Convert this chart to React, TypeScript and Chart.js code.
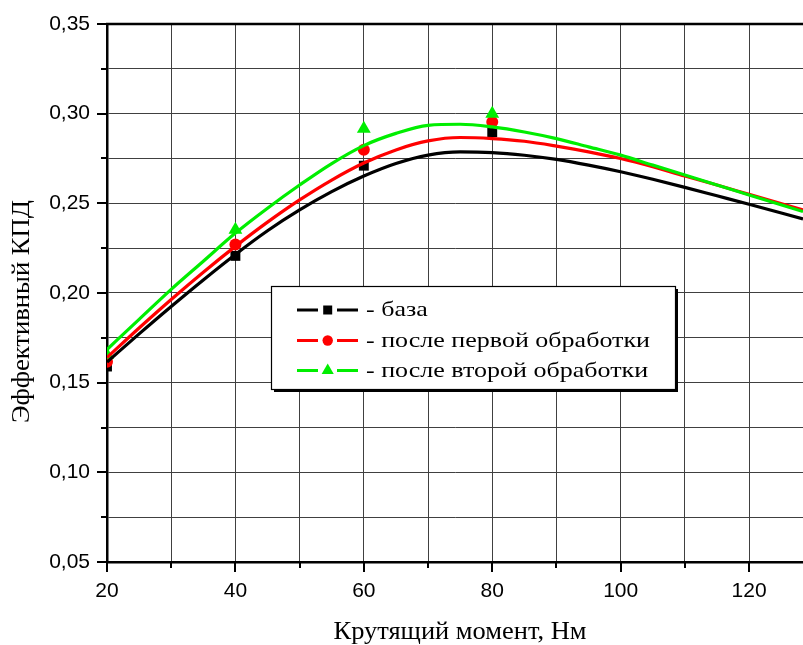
import React, { useEffect, useRef } from 'react';
import { Chart, registerables } from 'chart.js';
Chart.register(...registerables);

// fitted curves
const xCurve = [20, 25, 30, 35, 40, 45, 50, 55, 60, 65, 70, 75, 80, 85, 90, 95, 100, 105, 110, 115, 120, 128.4];
const baseCurve = [0.1615, 0.1772, 0.1925, 0.2073, 0.2215, 0.2347, 0.2463, 0.2565, 0.2652, 0.2722, 0.2769, 0.2787, 0.2783, 0.2768, 0.2745, 0.2713, 0.2676, 0.2634, 0.2589, 0.2542, 0.2495, 0.2413];
const firstCurve = [0.164, 0.1805, 0.1964, 0.2116, 0.226, 0.2395, 0.2519, 0.263, 0.2725, 0.2798, 0.2848, 0.2867, 0.2861, 0.2846, 0.2819, 0.2787, 0.275, 0.2704, 0.2652, 0.2602, 0.255, 0.2463];
const secondCurve = [0.1685, 0.1853, 0.202, 0.2177, 0.2334, 0.2473, 0.2602, 0.2722, 0.2822, 0.289, 0.2935, 0.2941, 0.2926, 0.2898, 0.2861, 0.2815, 0.2769, 0.2713, 0.2658, 0.2602, 0.2547, 0.2454];

// measured points
const xPoints = [20, 40, 60, 80];
const basePoints = [0.159, 0.2207, 0.271, 0.2897];
const firstPoints = [0.1616, 0.227, 0.2799, 0.2953];
const secondPoints = [0.1654, 0.2353, 0.2916, 0.3];

const seriesNames = ['- база', '- после первой обработки', '- после второй обработки'];
const seriesColors = ['#000000', '#ff0000', '#00ee00'];
const seriesStyles = ['rect', 'circle', 'triangle'];
const xTitle = 'Крутящий момент, Нм';
const yTitle = 'Эффективный КПД';

const X_MIN = 20;
const X_MAX = 128.4;
const Y_MIN = 0.05;
const Y_MAX = 0.35;

function drawStretched(ctx: CanvasRenderingContext2D, text: string, x: number, y: number, scale: number, align: 'left' | 'center') {
  const w = ctx.measureText(text).width;
  ctx.save();
  ctx.translate(x, y);
  ctx.scale(scale, 1);
  ctx.textAlign = 'left';
  ctx.fillText(text, align === 'center' ? -w / 2 : 0, 0);
  ctx.restore();
}

function drawMarker(ctx: CanvasRenderingContext2D, style: string, x: number, y: number, color: string) {
  ctx.save();
  ctx.fillStyle = color;
  ctx.beginPath();
  if (style === 'rect') {
    ctx.rect(x - 4.5, y - 4.5, 9, 9);
  } else if (style === 'circle') {
    ctx.arc(x, y, 5.2, 0, Math.PI * 2);
  } else {
    const r = 7;
    ctx.moveTo(x, y - r);
    ctx.lineTo(x + r * 0.866, y + r * 0.5);
    ctx.lineTo(x - r * 0.866, y + r * 0.5);
    ctx.closePath();
  }
  ctx.fill();
  ctx.restore();
}

const decorPlugin = {
  id: 'decor',
  afterDraw(chart: any) {
    const ctx: CanvasRenderingContext2D = chart.ctx;
    const xs = chart.scales.x;
    const ys = chart.scales.y;
    const area = chart.chartArea;
    ctx.save();
    // top border
    ctx.strokeStyle = '#000';
    ctx.lineWidth = 2.5;
    ctx.beginPath();
    ctx.moveTo(area.left - 1, area.top);
    ctx.lineTo(area.right + 2, area.top);
    ctx.stroke();
    // ticks
    ctx.lineWidth = 2;
    for (let v = X_MIN; v <= 120 + 1e-9; v += 10) {
      const px = Math.round(xs.getPixelForValue(v));
      const major = Math.round(v) % 20 === 0;
      ctx.beginPath();
      ctx.moveTo(px, area.bottom);
      ctx.lineTo(px, area.bottom + (major ? 10 : 6));
      ctx.stroke();
    }
    for (let i = 0; i <= 12; i++) {
      const v = Y_MIN + i * 0.025;
      const py = Math.round(ys.getPixelForValue(v));
      const major = i % 2 === 0;
      ctx.beginPath();
      ctx.moveTo(area.left, py);
      ctx.lineTo(area.left - (major ? 10 : 6), py);
      ctx.stroke();
    }
    // legend
    const bx = 271, by = 286, bw = 404, bh = 103;
    ctx.fillStyle = '#000';
    ctx.fillRect(bx + 3, by + 3, bw, bh);
    ctx.fillStyle = '#fff';
    ctx.fillRect(bx, by, bw, bh);
    ctx.strokeStyle = '#000';
    ctx.lineWidth = 1.2;
    ctx.strokeRect(bx + 0.5, by + 0.5, bw, bh);
    ctx.font = '22px "Liberation Serif", "Times New Roman", serif';
    const refW = ctx.measureText(seriesNames[1]).width;
    const lscale = 284 / refW;
    const rows = [310, 340.5, 370.5];
    seriesNames.forEach((name, i) => {
      const ry = rows[i];
      ctx.strokeStyle = seriesColors[i];
      ctx.lineWidth = 3;
      ctx.beginPath();
      ctx.moveTo(297, ry);
      ctx.lineTo(318, ry);
      ctx.moveTo(337, ry);
      ctx.lineTo(358, ry);
      ctx.stroke();
      drawMarker(ctx, seriesStyles[i], 327.7, ry, seriesColors[i]);
      ctx.fillStyle = '#000';
      ctx.textBaseline = 'alphabetic';
      drawStretched(ctx, name, 366, ry + 6, lscale, 'left');
    });
    // axis titles
    ctx.fillStyle = '#000';
    ctx.font = '25px "Liberation Serif", "Times New Roman", serif';
    ctx.textBaseline = 'alphabetic';
    const xw = ctx.measureText(xTitle).width;
    drawStretched(ctx, xTitle, 460, 638.5, 253 / xw, 'center');
    const yw = ctx.measureText(yTitle).width;
    ctx.save();
    ctx.translate(28.5, 311.5);
    ctx.rotate(-Math.PI / 2);
    drawStretched(ctx, yTitle, 0, 0, 223 / yw, 'center');
    ctx.restore();
    ctx.restore();
  },
};

const App = () => {
  const ref = useRef<HTMLCanvasElement>(null);
  useEffect(() => {
    const canvas = ref.current;
    if (!canvas) return;
    const curves = [baseCurve, firstCurve, secondCurve].map((arr, i) => ({
      type: 'line' as const,
      label: seriesNames[i] + ' fit',
      data: xCurve.map((x, j) => ({ x, y: arr[j] })),
      borderColor: seriesColors[i],
      borderWidth: 3.2,
      pointRadius: 0,
      cubicInterpolationMode: 'monotone' as const,
      fill: false,
      order: 3 - i,
    }));
    const points = [basePoints, firstPoints, secondPoints].map((arr, i) => ({
      type: 'line' as const,
      label: seriesNames[i],
      data: xPoints.map((x, j) => ({ x, y: arr[j] })),
      showLine: false,
      pointStyle: seriesStyles[i] as any,
      pointRadius: i === 0 ? 7 : i === 1 ? 6 : 8,
      backgroundColor: seriesColors[i],
      borderColor: seriesColors[i],
      borderWidth: 0,
      order: 10 - i,
    }));
    const chart = new Chart(canvas, {
      type: 'line',
      data: { datasets: [...curves, ...points] as any },
      options: {
        responsive: false,
        devicePixelRatio: 1,
        animation: false,
        events: [],
        layout: { autoPadding: false, padding: { top: 24, right: 0, left: 0, bottom: 0 } },
        plugins: { legend: { display: false }, tooltip: { enabled: false } },
        scales: {
          x: {
            type: 'linear',
            min: X_MIN,
            max: X_MAX,
            afterFit: (s: any) => { s.height = 83; s.paddingRight = 0; s.paddingLeft = 0; },
            ticks: {
              stepSize: 10,
              includeBounds: false,
              autoSkip: false,
              maxRotation: 0,
              padding: 7,
              color: '#000',
              font: { family: '"Liberation Sans", Arial, sans-serif', size: 21 },
              callback: (v: any) => (Math.round(Number(v)) % 20 === 0 && Number(v) <= 120 ? String(Math.round(Number(v))) : ''),
            },
            grid: { color: '#404040', lineWidth: 1, tickLength: 10, tickColor: 'rgba(0,0,0,0)' },
            border: { display: true, color: '#000', width: 2.5 },
          },
          y: {
            type: 'linear',
            min: Y_MIN,
            max: Y_MAX,
            afterFit: (s: any) => { s.width = 107; s.paddingTop = 0; s.paddingBottom = 0; },
            ticks: {
              stepSize: 0.025,
              autoSkip: false,
              padding: 7,
              color: '#000',
              font: { family: '"Liberation Sans", Arial, sans-serif', size: 21 },
              callback: (v: any) => {
                const n = Number(v);
                const k = n / 0.05;
                return Math.abs(k - Math.round(k)) < 1e-6 ? n.toFixed(2).replace('.', ',') : '';
              },
            },
            grid: { color: '#404040', lineWidth: 1, tickLength: 10, tickColor: 'rgba(0,0,0,0)' },
            border: { display: true, color: '#000', width: 2.5 },
          },
        },
      },
      plugins: [decorPlugin],
    });
    return () => chart.destroy();
  }, []);
  return (
    <div style={{ position: 'fixed', left: 0, top: 0, width: 803, height: 645, background: '#fff' }}>
      <canvas ref={ref} width={803} height={645} style={{ display: 'block', width: 803, height: 645 }} />
    </div>
  );
};

export default App;
